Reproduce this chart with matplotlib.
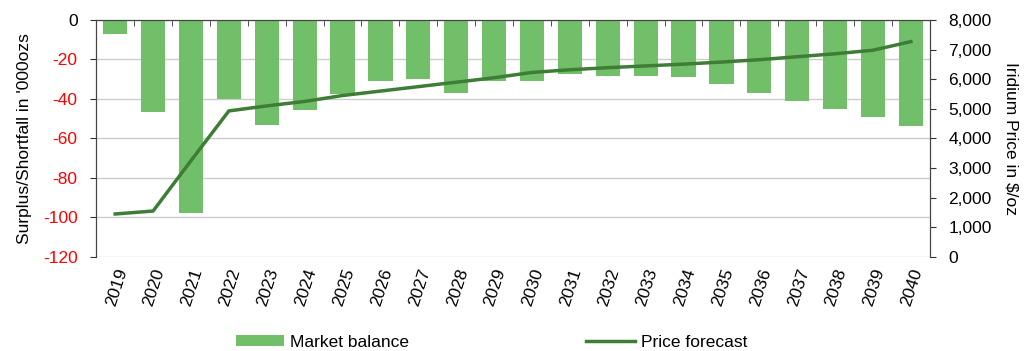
import matplotlib.pyplot as plt
import numpy as np

plt.rcParams['font.family'] = ['Liberation Sans', 'DejaVu Sans']
plt.rcParams['axes.unicode_minus'] = False

years = [str(y) for y in range(2019, 2041)]
balance = [-7, -46.5, -98, -40, -53, -45.5, -37.5, -31, -30, -37, -31,
           -31, -27.5, -28.5, -28.3, -29, -32.5, -37, -41, -45, -49, -53.5]
price = [1450, 1550, 3250, 4930, 5100, 5250, 5450, 5600, 5750, 5900, 6050,
         6230, 6320, 6390, 6450, 6510, 6580, 6660, 6760, 6860, 6980, 7270]

bar_color = '#72BF69'
line_color = '#3E7D36'
fs = 12.5

fig = plt.figure(figsize=(10.24, 3.51), dpi=100)
ax = fig.add_axes([0.094, 0.268, 0.814, 0.675])
x = np.arange(len(years))

bars = ax.bar(x, balance, width=0.64, color=bar_color, label='Market balance', zorder=2)
ax.set_ylim(-120, 0)
ax.set_xlim(-0.5, len(years) - 0.5)
ax.set_yticks(np.arange(-120, 1, 20))
ax.yaxis.grid(True, color='#CCCCCC', linewidth=1, zorder=0)
ax.set_axisbelow(True)
for lbl, v in zip(ax.get_yticklabels(), ax.get_yticks()):
    lbl.set_color('black' if v == 0 else 'red')
ax.tick_params(axis='y', labelsize=fs, length=4.5, pad=9, color='#333333')
ax.set_ylabel("Surplus/Shortfall in '000ozs", fontsize=fs, labelpad=8)

# year labels along the bottom, category dividers on the zero line at the top
ax.set_xticks(x)
ax.set_xticklabels(years, rotation=72, ha='right', rotation_mode='anchor', fontsize=fs)
ax.tick_params(axis='x', length=0, pad=7)
ax.set_xticks(x[:-1] + 0.5, minor=True)
ax.tick_params(axis='x', which='minor', top=True, bottom=False, direction='in',
               length=4, color='#333333')

for s in ['left', 'right', 'top']:
    ax.spines[s].set_color('#444444')
ax.spines['bottom'].set_visible(False)

ax2 = ax.twinx()
line, = ax2.plot(x, price, color=line_color, linewidth=2.5, label='Price forecast', zorder=3)
ax2.set_ylim(0, 8000)
ax2.set_yticks(np.arange(0, 8001, 1000))
ax2.set_yticklabels([f'{v:,}' for v in range(0, 8001, 1000)])
ax2.tick_params(axis='y', labelsize=fs, length=4.5, pad=9, color='#333333')
ax2.set_ylabel('Iridium Price in $/oz', fontsize=fs, rotation=270, labelpad=19)
for s in ['left', 'right', 'top']:
    ax2.spines[s].set_color('#444444')
ax2.spines['bottom'].set_visible(False)

fig.legend([bars, line], ['Market balance', 'Price forecast'], loc='center',
           bbox_to_anchor=(0.48, 0.025), ncol=2, frameon=False, fontsize=fs,
           handlelength=2.8, handleheight=0.55, handletextpad=0.35,
           columnspacing=10.2, borderpad=0)

fig.savefig('out.png', dpi=100)
